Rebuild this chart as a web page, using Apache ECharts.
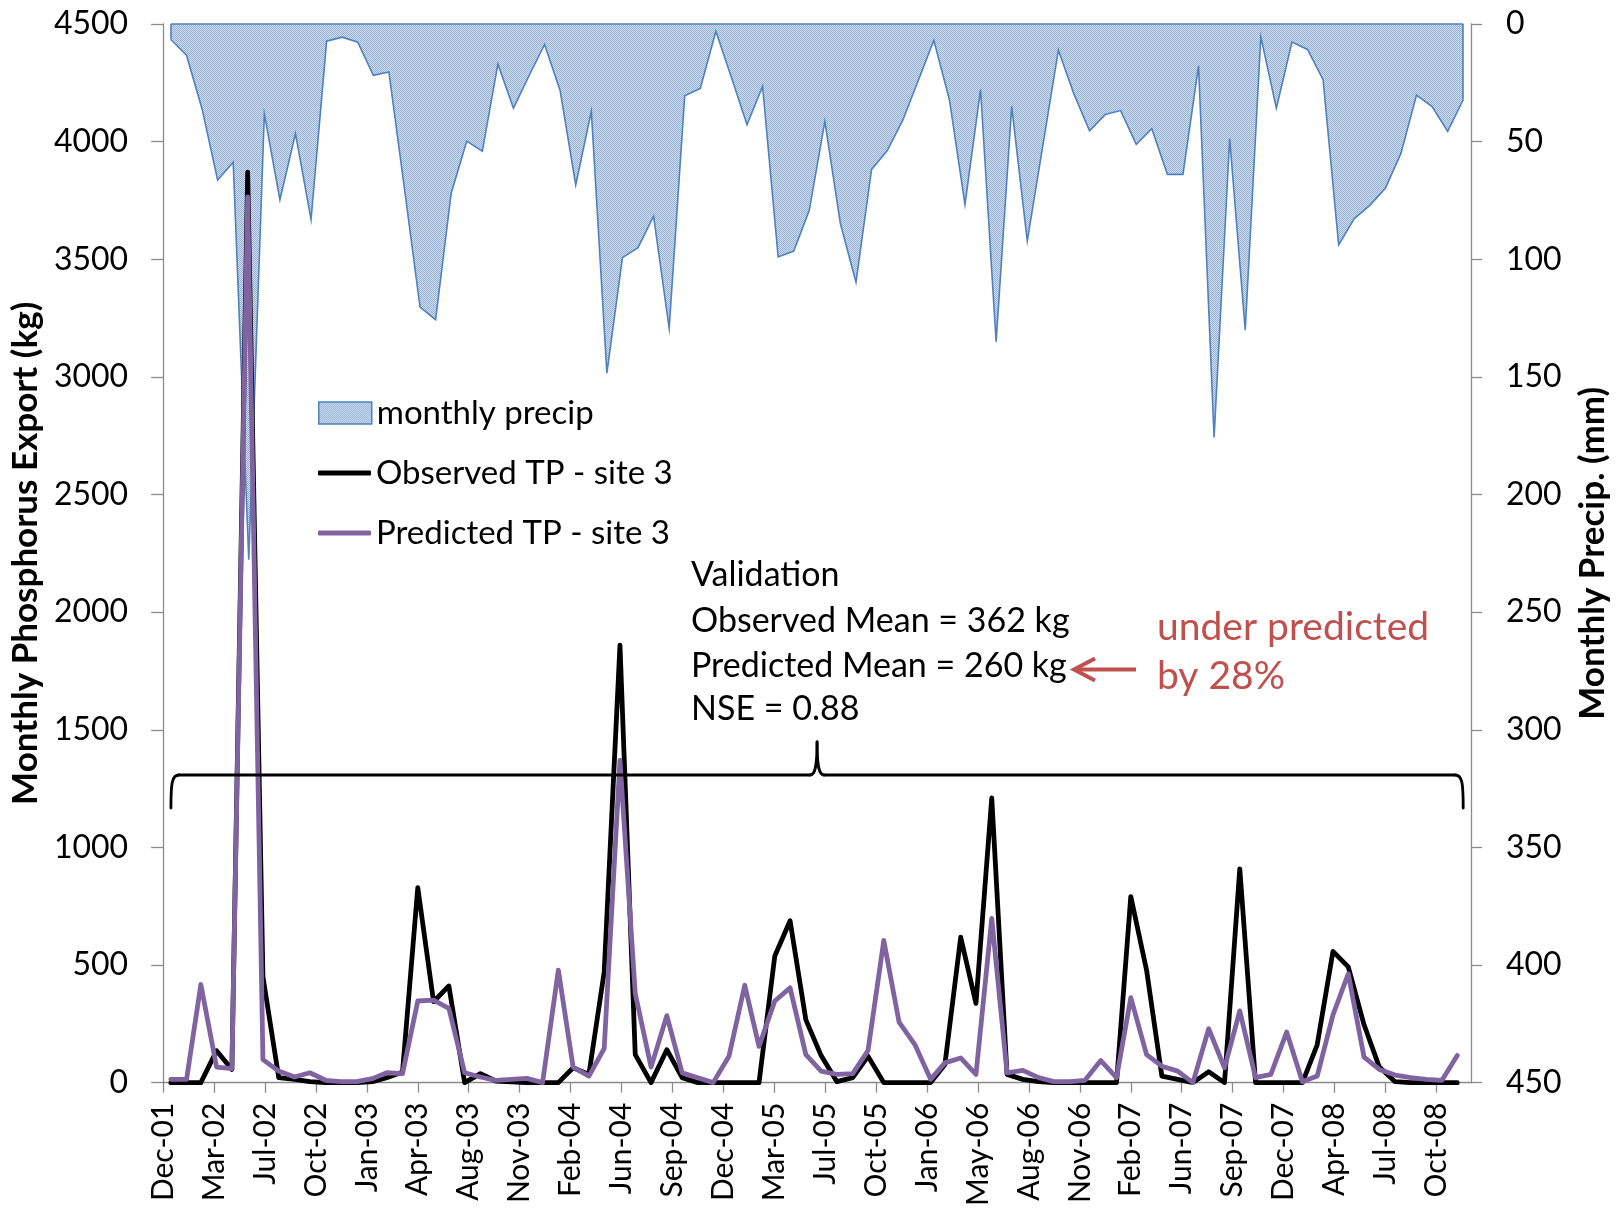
<!DOCTYPE html>
<html>
<head>
<meta charset="utf-8">
<title>Monthly phosphorus export and precipitation, site 3</title>
<script src="https://cdn.jsdelivr.net/npm/echarts@6/dist/echarts.min.js"></script>
<style>
  html, body { margin: 0; padding: 0; background: #ffffff; }
  #chart { width: 1618px; height: 1209px; }
</style>
</head>
<body>
<div id="chart"></div>
<script>
// Monthly records, one per month (dated at month end), Dec 2001 - Nov 2008
const months = [
  '2001-12',
  '2002-01','2002-02','2002-03','2002-04','2002-05','2002-06','2002-07','2002-08','2002-09','2002-10','2002-11','2002-12',
  '2003-01','2003-02','2003-03','2003-04','2003-05','2003-06','2003-07','2003-08','2003-09','2003-10','2003-11','2003-12',
  '2004-01','2004-02','2004-03','2004-04','2004-05','2004-06','2004-07','2004-08','2004-09','2004-10','2004-11','2004-12',
  '2005-01','2005-02','2005-03','2005-04','2005-05','2005-06','2005-07','2005-08','2005-09','2005-10','2005-11','2005-12',
  '2006-01','2006-02','2006-03','2006-04','2006-05','2006-06','2006-07','2006-08','2006-09','2006-10','2006-11','2006-12',
  '2007-01','2007-02','2007-03','2007-04','2007-05','2007-06','2007-07','2007-08','2007-09','2007-10','2007-11','2007-12',
  '2008-01','2008-02','2008-03','2008-04','2008-05','2008-06','2008-07','2008-08','2008-09','2008-10','2008-11'
];

// Monthly precipitation (mm)
const precipMm = [
  6.6,
  13.3, 36.1, 66.3, 58.8, 227.7, 38.2, 74.7, 46.6, 83.1, 7.3, 5.6, 7.7,
  21.8, 20.4, 70.0, 120.3, 125.7, 71.9, 49.8, 54.1, 17.1, 35.8, 22.0, 8.7,
  28.4, 68.4, 37.1, 148.4, 99.3, 95.1, 81.7, 129.4, 30.5, 27.4, 3.1, 22.7,
  42.8, 26.5, 99.0, 96.5, 79.2, 41.4, 84.9, 109.8, 61.8, 53.9, 41.0, 24.0,
  6.9, 32.2, 76.8, 27.9, 135.1, 35.0, 92.2, 51.7, 11.1, 29.8, 45.4, 38.5,
  36.8, 51.2, 44.5, 63.9, 63.9, 17.8, 175.8, 48.7, 130.1, 5.5, 35.8, 7.7,
  10.8, 23.7, 93.9, 82.7, 77.1, 69.8, 55.0, 30.2, 35.1, 45.6, 32.2
];

// Observed total phosphorus export (kg)
const observedTP = [
  0,
  0, 0, 136, 56, 3870, 450, 21, 14, 4, 0, 0, 0,
  4, 21, 45, 829, 344, 411, 0, 38, 7, 3, 0, 0,
  0, 63, 35, 470, 1860, 119, 0, 140, 21, 0, 0, 0,
  0, 0, 538, 688, 267, 115, 4, 21, 112, 0, 0, 0,
  0, 77, 618, 337, 1210, 35, 14, 4, 0, 0, 0, 0,
  0, 791, 478, 28, 14, 0, 46, 0, 909, 0, 0, 0,
  0, 161, 558, 492, 246, 66, 4, 0, 0, 0, 0
];

// Predicted total phosphorus export (kg)
const predictedTP = [
  14,
  14, 417, 66, 60, 3765, 98, 49, 24, 42, 10, 4, 4,
  17, 42, 38, 347, 351, 316, 42, 24, 10, 14, 18, 0,
  478, 66, 28, 145, 1370, 379, 66, 285, 42, 21, 0, 112,
  414, 154, 347, 403, 119, 49, 35, 38, 136, 604, 257, 162,
  14, 84, 105, 35, 698, 42, 52, 21, 4, 4, 10, 94,
  21, 361, 119, 70, 49, 0, 229, 63, 305, 21, 35, 215,
  4, 28, 288, 463, 108, 56, 32, 21, 14, 10, 115
];

// Date-axis labels, one every 100 days from the axis origin
const dateTickLabels = [
  'Dec-01','Mar-02','Jul-02','Oct-02','Jan-03','Apr-03','Aug-03','Nov-03','Feb-04',
  'Jun-04','Sep-04','Dec-04','Mar-05','Jul-05','Oct-05','Jan-06','May-06','Aug-06',
  'Nov-06','Feb-07','Jun-07','Sep-07','Dec-07','Apr-08','Jul-08','Oct-08'
];

// ---- date axis set-up (values are days since the axis origin) ----
const DAY_MS = 86400000;
const AXIS_ORIGIN = Date.UTC(2001, 11, 16);
const TICK_STEP_DAYS = 100;
const AXIS_SPAN_DAYS = 2568;
const tickDays = dateTickLabels.map((_, k) => k * TICK_STEP_DAYS);

function monthEndDay(ym) {
  const [y, m] = ym.split('-').map(Number);
  return (Date.UTC(y, m, 0) - AXIS_ORIGIN) / DAY_MS;
}
const monthDays = months.map(monthEndDay);
const observedSeries = months.map((m, i) => [monthDays[i], observedTP[i]]);
const predictedSeries = months.map((m, i) => [monthDays[i], predictedTP[i]]);

// stippled light-blue fill for the precipitation area
function makeStipple() {
  const c = document.createElement('canvas');
  c.width = 4; c.height = 4;
  const g = c.getContext('2d');
  g.fillStyle = '#d2dff0';
  g.fillRect(0, 0, 4, 4);
  g.fillStyle = '#94b0da';
  for (let y = 0; y < 4; y++) {
    for (let x = (y % 2); x < 4; x += 2) g.fillRect(x, y, 1, 1);
  }
  return c;
}
const stipple = { image: makeStipple(), repeat: 'repeat' };

const FONT = 'Lato, "Open Sans", sans-serif';
const AXIS_GREY = '#8a8a8a';
const BLUE = '#4f81bd';
const PURPLE = '#8064a2';
const RED = '#c0504d';
const TP_LINE_WIDTH = 4.8;

const chart = echarts.init(document.getElementById('chart'), null, { renderer: 'canvas' });

const legendCommon = {
  orient: 'vertical',
  left: 318,
  padding: 0,
  itemGap: 0,
  itemWidth: 53,
  selectedMode: false,
  textStyle: { fontFamily: FONT, fontSize: 33, color: '#000', lineHeight: 34 }
};

const plainNumber = v => String(v);

const option = {
  animation: false,
  backgroundColor: '#ffffff',
  grid: { left: 160, right: 147, top: 24, bottom: 117, containLabel: false },
  legend: [
    Object.assign({}, legendCommon, {
      top: 396, itemHeight: 22,
      data: [{ name: 'monthly precip', icon: 'rect',
               itemStyle: { color: stipple, borderColor: BLUE, borderWidth: 1.5 } }]
    }),
    Object.assign({}, legendCommon, {
      top: 456, itemHeight: 5,
      data: [{ name: 'Observed TP - site 3', icon: 'roundRect', itemStyle: { color: '#000' } }]
    }),
    Object.assign({}, legendCommon, {
      top: 516, itemHeight: 5,
      data: [{ name: 'Predicted TP - site 3', icon: 'roundRect', itemStyle: { color: PURPLE } }]
    })
  ],
  xAxis: [
    {
      type: 'value',
      position: 'bottom',
      min: 0,
      max: AXIS_SPAN_DAYS,
      interval: TICK_STEP_DAYS,
      splitLine: { show: false },
      axisLine: { show: true, onZero: false, lineStyle: { color: AXIS_GREY, width: 1.3 } },
      axisTick: { show: true, inside: false, length: 10, customValues: tickDays,
                  lineStyle: { color: AXIS_GREY, width: 1.3 } },
      axisLabel: {
        rotate: 90, margin: 20, fontFamily: FONT, fontSize: 30, color: '#000',
        customValues: tickDays,
        formatter: v => (v % TICK_STEP_DAYS === 0 && dateTickLabels[v / TICK_STEP_DAYS]) || ''
      }
    },
    {
      type: 'category',
      data: months,
      boundaryGap: true,
      show: false
    }
  ],
  yAxis: [
    {
      type: 'value',
      position: 'left',
      min: 0, max: 4500, interval: 500,
      name: 'Monthly Phosphorus Export (kg)',
      nameLocation: 'middle',
      nameRotate: 90,
      nameGap: 101,
      nameTextStyle: { fontFamily: FONT, fontSize: 35, fontWeight: 'bold', color: '#000' },
      splitLine: { show: false },
      axisLine: { show: true, lineStyle: { color: AXIS_GREY, width: 1.3 } },
      axisTick: { show: true, inside: false, length: 12, lineStyle: { color: AXIS_GREY, width: 1.3 } },
      axisLabel: { margin: 35, fontFamily: FONT, fontSize: 32, color: '#000', formatter: plainNumber }
    },
    {
      type: 'value',
      position: 'right',
      min: 0, max: 450, interval: 50,
      inverse: true,
      name: 'Monthly Precip. (mm)',
      nameLocation: 'middle',
      nameRotate: 90,
      nameGap: 104,
      nameTextStyle: { fontFamily: FONT, fontSize: 35, fontWeight: 'bold', color: '#000' },
      splitLine: { show: false },
      axisLine: { show: true, lineStyle: { color: AXIS_GREY, width: 1.3 } },
      axisTick: { show: true, inside: false, length: 11, lineStyle: { color: AXIS_GREY, width: 1.3 } },
      axisLabel: { margin: 35, fontFamily: FONT, fontSize: 32, color: '#000', formatter: plainNumber }
    }
  ],
  series: [
    {
      name: 'monthly precip',
      type: 'line',
      xAxisIndex: 1,
      yAxisIndex: 1,
      data: precipMm,
      symbol: 'none',
      z: 1,
      lineStyle: { color: BLUE, width: 1.6, join: 'miter' },
      itemStyle: { color: stipple, borderColor: BLUE },
      areaStyle: { color: stipple, opacity: 1 },
      markLine: {
        silent: true,
        symbol: 'none',
        label: { show: false },
        lineStyle: { color: BLUE, width: 1.6, type: 'solid' },
        data: [
          [{ coord: [months[0], 0] }, { coord: [months[months.length - 1], 0] }],
          [{ coord: [months[0], 0] }, { coord: [months[0], precipMm[0]] }],
          [{ coord: [months[months.length - 1], 0] },
           { coord: [months[months.length - 1], precipMm[precipMm.length - 1]] }]
        ]
      }
    },
    {
      name: 'Observed TP - site 3',
      type: 'line',
      xAxisIndex: 0,
      yAxisIndex: 0,
      data: observedSeries,
      symbol: 'none',
      z: 3,
      itemStyle: { color: '#000' },
      lineStyle: { color: '#000', width: TP_LINE_WIDTH, cap: 'round', join: 'round' }
    },
    {
      name: 'Predicted TP - site 3',
      type: 'line',
      xAxisIndex: 0,
      yAxisIndex: 0,
      data: predictedSeries,
      symbol: 'none',
      z: 4,
      itemStyle: { color: PURPLE },
      lineStyle: { color: PURPLE, width: TP_LINE_WIDTH, cap: 'round', join: 'round' }
    }
  ]
};

chart.setOption(option);

// ---- annotations: validation summary, arrow, and the brace over the record ----
const firstX = chart.convertToPixel({ xAxisIndex: 1 }, months[0]);
const lastX = chart.convertToPixel({ xAxisIndex: 1 }, months[months.length - 1]);
const midX = (firstX + lastX) / 2;
const braceBar = 775, braceFoot = 808, braceTip = 742;

const braceStroke = { fill: null, stroke: '#000', lineWidth: 2.8, lineCap: 'round' };
const curve = (x1, y1, cpx1, cpy1, cpx2, cpy2, x2, y2) => ({
  type: 'bezierCurve', silent: true, z: 5,
  shape: { x1, y1, cpx1, cpy1, cpx2, cpy2, x2, y2 },
  style: braceStroke
});
const straight = (x1, y1, x2, y2) => ({
  type: 'line', silent: true, z: 5,
  shape: { x1, y1, x2, y2 },
  style: braceStroke
});

const label = (text, x, y, fill, size) => ({
  type: 'text', x, y, silent: true, z: 10,
  style: { text, fill, font: `${size}px ${FONT}`, align: 'left', verticalAlign: 'middle' }
});

chart.setOption({
  graphic: [
    // brace spanning the whole record
    curve(firstX, braceFoot, firstX, braceBar + 8, firstX + 1, braceBar, firstX + 8, braceBar),
    straight(firstX + 8, braceBar, midX - 7, braceBar),
    curve(midX - 7, braceBar, midX - 2, braceBar, midX, braceBar - 8, midX, braceTip),
    curve(midX, braceTip, midX, braceBar - 8, midX + 2, braceBar, midX + 7, braceBar),
    straight(midX + 7, braceBar, lastX - 8, braceBar),
    curve(lastX - 8, braceBar, lastX - 1, braceBar, lastX, braceBar + 8, lastX, braceFoot),
    // validation summary
    label('Validation', 691, 575, '#000', 34),
    label('Observed Mean = 362 kg', 691, 621, '#000', 34),
    label('Predicted Mean = 260 kg', 691, 666, '#000', 34),
    label('NSE = 0.88', 691, 709, '#000', 34),
    label('under predicted', 1157, 627, RED, 39),
    label('by 28%', 1157, 676, RED, 39),
    // red arrow pointing at the predicted mean
    {
      type: 'line', silent: true, z: 6,
      shape: { x1: 1136, y1: 669.5, x2: 1076, y2: 669.5 },
      style: { stroke: RED, lineWidth: 4 }
    },
    {
      type: 'polyline', silent: true, z: 6,
      shape: { points: [[1095, 658.5], [1074, 669.5], [1095, 680.5]] },
      style: { stroke: RED, lineWidth: 4, fill: null, lineJoin: 'miter' }
    }
  ]
});
</script>
</body>
</html>
